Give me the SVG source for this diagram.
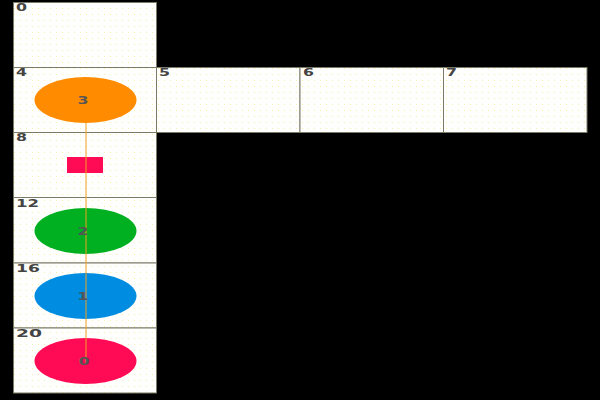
<svg xmlns="http://www.w3.org/2000/svg" width="600" height="400" viewBox="0 0 600 400">
<defs>
<pattern id="dots" width="6" height="6" patternUnits="userSpaceOnUse">
<rect width="6" height="6" fill="#fefefc"/>
<rect x="2" y="2" width="1" height="1" fill="#f3f0b0"/>
</pattern>
<style>
.cell{fill:url(#dots);stroke:#7a7a68;stroke-width:1}
.cl{font-family:"DejaVu Sans",sans-serif;font-size:10px;font-weight:bold;fill:#444}
.nl{font-family:"DejaVu Sans",sans-serif;font-size:10px;font-weight:bold;fill:#555;text-anchor:middle}
</style>
</defs>
<rect width="600" height="400" fill="#000"/>
<g id="cells">
<g id="cell0"><rect class="cell" x="13.5" y="2.5" width="143" height="65"/><text class="cl" x="16" y="11" textLength="11" lengthAdjust="spacingAndGlyphs">0</text></g>
<g id="cell4"><rect class="cell" x="13.5" y="67.5" width="143" height="65"/><text class="cl" x="16" y="76" textLength="11" lengthAdjust="spacingAndGlyphs">4</text></g>
<g id="cell5"><rect class="cell" x="156.5" y="67.5" width="143.5" height="65"/><text class="cl" x="159" y="76" textLength="11" lengthAdjust="spacingAndGlyphs">5</text></g>
<g id="cell6"><rect class="cell" x="300" y="67.5" width="143.5" height="65"/><text class="cl" x="303" y="76" textLength="11" lengthAdjust="spacingAndGlyphs">6</text></g>
<g id="cell7"><rect class="cell" x="443.5" y="67.5" width="143.5" height="65"/><text class="cl" x="446" y="76" textLength="11" lengthAdjust="spacingAndGlyphs">7</text></g>
<g id="cell8"><rect class="cell" x="13.5" y="132.5" width="143" height="65"/><text class="cl" x="16" y="141" textLength="11" lengthAdjust="spacingAndGlyphs">8</text></g>
<g id="cell12"><rect class="cell" x="13.5" y="197.5" width="143" height="65.5"/><text class="cl" x="16" y="207" textLength="23" lengthAdjust="spacingAndGlyphs">12</text></g>
<g id="cell16"><rect class="cell" x="13.5" y="263" width="143" height="65"/><text class="cl" x="16" y="272" textLength="24" lengthAdjust="spacingAndGlyphs">16</text></g>
<g id="cell20"><rect class="cell" x="13.5" y="328" width="143" height="65"/><text class="cl" x="16" y="337" textLength="26" lengthAdjust="spacingAndGlyphs">20</text></g>
</g>
<g id="node3"><ellipse cx="85.5" cy="100" rx="51" ry="23" fill="#ff8c00"/></g>
<g id="nodeRect"><rect x="67" y="157" width="36" height="16" fill="#ff0a54"/></g>
<g id="node2"><ellipse cx="85.5" cy="231" rx="51" ry="23" fill="#00b020"/></g>
<g id="node1"><ellipse cx="85.5" cy="296" rx="51" ry="23" fill="#008ce0"/></g>
<g id="node0"><ellipse cx="85.5" cy="361" rx="51" ry="23" fill="#ff0a54"/></g>
<g id="connectors">
<line x1="86" y1="123" x2="86" y2="362" stroke="#f0a020" stroke-width="1"/>
</g>
<g id="labels">
<text class="nl" x="83" y="104" textLength="11" lengthAdjust="spacingAndGlyphs">3</text>
<text class="nl" x="83" y="235" textLength="11" lengthAdjust="spacingAndGlyphs">2</text>
<text class="nl" x="83" y="300" textLength="11" lengthAdjust="spacingAndGlyphs">1</text>
<text class="nl" x="84" y="365" textLength="11" lengthAdjust="spacingAndGlyphs">0</text>
</g>
</svg>
